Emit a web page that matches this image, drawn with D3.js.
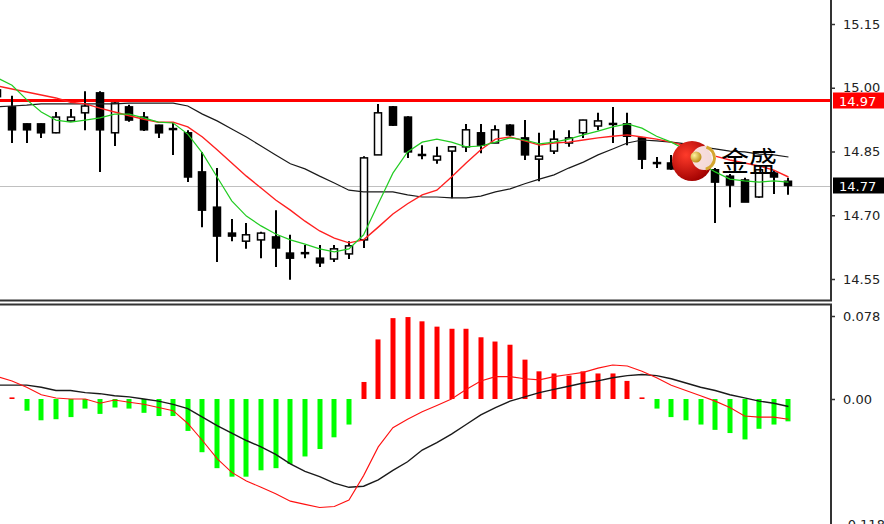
<!DOCTYPE html>
<html><head><meta charset="utf-8">
<script src="https://cdn.jsdelivr.net/npm/d3@7"></script>
<style>html,body{margin:0;padding:0;background:#fff;overflow:hidden}</style>
</head><body><svg id="c" width="884" height="524"></svg>
<script>
// ---- data (bar index -1 .. 53) ----
const barIndex = d3.range(-1, 54);
const open  = [14.995,14.955,14.915,14.915,14.894,14.922,14.941,14.988,14.894,14.955,14.931,14.912,14.904,14.894,14.802,14.719,14.658,14.639,14.642,14.649,14.611,14.612,14.599,14.597,14.609,14.642,14.842,14.955,14.931,14.843,14.830,14.851,14.861,14.894,14.870,14.912,14.882,14.832,14.851,14.870,14.894,14.910,14.916,14.915,14.882,14.824,14.823,14.830,14.849,14.807,14.792,14.783,14.743,14.799,14.780];
const high  = [15.000,14.981,14.916,14.916,14.943,14.950,14.992,14.992,14.966,14.960,14.943,14.913,14.919,14.900,14.849,14.811,14.691,14.682,14.661,14.712,14.654,14.630,14.630,14.630,14.639,14.839,14.962,14.957,14.933,14.865,14.861,14.863,14.915,14.915,14.912,14.914,14.924,14.894,14.900,14.900,14.925,14.941,14.955,14.941,14.884,14.837,14.842,14.854,14.865,14.811,14.797,14.788,14.807,14.806,14.788];
const low   = [14.970,14.870,14.870,14.882,14.893,14.921,14.900,14.802,14.863,14.920,14.898,14.882,14.842,14.778,14.672,14.590,14.639,14.621,14.599,14.578,14.548,14.599,14.578,14.590,14.597,14.623,14.842,14.910,14.835,14.832,14.821,14.740,14.849,14.846,14.870,14.886,14.830,14.780,14.844,14.861,14.882,14.900,14.870,14.865,14.809,14.811,14.807,14.783,14.806,14.682,14.719,14.731,14.741,14.750,14.748];
const close = [14.979,14.901,14.901,14.894,14.931,14.931,14.957,14.901,14.964,14.924,14.901,14.894,14.902,14.790,14.712,14.651,14.651,14.654,14.658,14.623,14.599,14.610,14.588,14.621,14.628,14.835,14.941,14.912,14.849,14.841,14.839,14.861,14.901,14.865,14.901,14.889,14.842,14.839,14.879,14.882,14.924,14.922,14.914,14.886,14.832,14.822,14.809,14.807,14.816,14.778,14.771,14.731,14.807,14.790,14.770];

const maFast = [15.023,15.006,14.972,14.943,14.924,14.919,14.924,14.929,14.938,14.938,14.929,14.919,14.917,14.891,14.846,14.790,14.734,14.698,14.675,14.656,14.642,14.632,14.621,14.614,14.621,14.654,14.727,14.799,14.849,14.872,14.879,14.872,14.861,14.863,14.872,14.882,14.877,14.868,14.872,14.879,14.889,14.898,14.908,14.915,14.905,14.886,14.872,14.854,14.823,14.802,14.785,14.781,14.778,14.781,14.778];
const maMid  = [15.004,14.997,14.990,14.983,14.976,14.966,14.962,14.952,14.943,14.934,14.926,14.919,14.919,14.908,14.884,14.854,14.823,14.792,14.764,14.736,14.712,14.686,14.663,14.646,14.635,14.642,14.672,14.703,14.727,14.748,14.759,14.790,14.823,14.854,14.879,14.884,14.875,14.865,14.870,14.872,14.877,14.882,14.886,14.889,14.884,14.879,14.872,14.863,14.849,14.839,14.830,14.823,14.816,14.806,14.790];
const maSlow = [14.955,14.957,14.959,14.962,14.962,14.962,14.962,14.962,14.962,14.964,14.964,14.964,14.964,14.957,14.938,14.922,14.903,14.884,14.863,14.842,14.821,14.809,14.792,14.776,14.759,14.755,14.755,14.755,14.748,14.743,14.743,14.741,14.741,14.745,14.755,14.762,14.774,14.785,14.795,14.811,14.825,14.842,14.856,14.870,14.877,14.875,14.872,14.868,14.861,14.856,14.851,14.849,14.844,14.842,14.837];

const macdHist   = [0.020,0.0015,-0.011,-0.020,-0.019,-0.017,-0.009,-0.014,-0.008,-0.009,-0.013,-0.016,-0.016,-0.030,-0.050,-0.065,-0.073,-0.073,-0.067,-0.065,-0.061,-0.054,-0.047,-0.036,-0.024,0.016,0.056,0.076,0.077,0.073,0.068,0.066,0.066,0.058,0.054,0.051,0.037,0.026,0.024,0.022,0.026,0.024,0.024,0.017,0.0015,-0.009,-0.017,-0.020,-0.024,-0.029,-0.032,-0.038,-0.028,-0.024,-0.021];
const macdLine   = [0.021,0.017,0.011,0.004,0.001,0.000,0.000,-0.004,-0.001,-0.003,-0.005,-0.008,-0.011,-0.023,-0.039,-0.056,-0.069,-0.077,-0.083,-0.089,-0.096,-0.099,-0.102,-0.101,-0.095,-0.072,-0.045,-0.027,-0.019,-0.012,-0.006,0.000,0.009,0.017,0.021,0.021,0.019,0.018,0.021,0.023,0.025,0.029,0.032,0.031,0.026,0.020,0.013,0.008,0.003,-0.002,-0.008,-0.016,-0.017,-0.017,-0.019];
const macdSignal = [0.013,0.013,0.013,0.011,0.008,0.008,0.006,0.005,0.003,0.002,0.000,-0.002,-0.005,-0.009,-0.017,-0.025,-0.032,-0.039,-0.045,-0.052,-0.061,-0.068,-0.073,-0.079,-0.083,-0.082,-0.076,-0.067,-0.059,-0.048,-0.041,-0.033,-0.024,-0.015,-0.008,-0.002,0.002,0.006,0.009,0.012,0.015,0.017,0.020,0.022,0.023,0.022,0.019,0.015,0.011,0.008,0.004,0.001,-0.002,-0.004,-0.007];

const priceTicks = [15.15, 15.00, 14.85, 14.70, 14.55];
const macdTicks  = [0.078, 0.00, -0.118];
const macdTickLabels = ["0.078", "0.00", "-0.118"];
const levelLine = 14.97;
const lastPrice = 14.77;
const brandText = "金盛";

// ---- layout ----
const svg = d3.select("#c");
const axisX = 831;
const x = d3.scaleLinear().domain([0, 53]).range([12, 788.45]);
const y = d3.scaleLinear().domain([14.55, 15.15]).range([279, 24]);
const ym = d3.scaleLinear().domain([0, 0.078]).range([399, 316]);

const defs = svg.append("defs");
defs.append("clipPath").attr("id","cpMain").append("rect").attr("x",0).attr("y",0).attr("width",axisX).attr("height",300);
defs.append("clipPath").attr("id","cpMacd").append("rect").attr("x",0).attr("y",305).attr("width",axisX).attr("height",219);
const rg = defs.append("radialGradient").attr("id","logoG").attr("cx","35%").attr("cy","35%").attr("r","70%");
rg.append("stop").attr("offset","0%").attr("stop-color","#ff3b2a");
rg.append("stop").attr("offset","100%").attr("stop-color","#a00000");
const gg = defs.append("radialGradient").attr("id","ballG").attr("cx","35%").attr("cy","35%").attr("r","70%");
gg.append("stop").attr("offset","0%").attr("stop-color","#fff2a0");
gg.append("stop").attr("offset","100%").attr("stop-color","#b88a10");

const main = svg.append("g").attr("clip-path","url(#cpMain)");
main.append("line").attr("x1",0).attr("x2",axisX).attr("y1",Math.round(y(lastPrice))+0.5).attr("y2",Math.round(y(lastPrice))+0.5)
  .attr("stroke","#c0c0c0").attr("stroke-width",1);
main.append("line").attr("x1",0).attr("x2",axisX).attr("y1",y(levelLine)).attr("y2",y(levelLine))
  .attr("stroke","#ff0000").attr("stroke-width",3);

const bars = barIndex.map((b,k)=>({b, o:open[k], h:high[k], l:low[k], c:close[k]}));
const cg = main.append("g");
cg.selectAll("line.wick").data(bars).join("line").attr("class","wick")
  .attr("x1",d=>Math.round(x(d.b))).attr("x2",d=>Math.round(x(d.b)))
  .attr("y1",d=>y(d.h)).attr("y2",d=>y(d.l)).attr("stroke","#000").attr("stroke-width",2);
cg.selectAll("rect.body").data(bars).join("rect").attr("class","body")
  .attr("x",d=>Math.round(x(d.b))-3.5).attr("width",7)
  .attr("y",d=>Math.min(y(d.o),y(d.c)))
  .attr("height",d=>Math.max(1,Math.abs(y(d.o)-y(d.c))))
  .attr("fill",d=>d.c>d.o?"#fff":"#000").attr("stroke","#000").attr("stroke-width",1.5);

const lineP = arr => d3.line().x((d,k)=>x(barIndex[k])).y(d=>y(d))(arr);
main.append("path").attr("d",lineP(maSlow)).attr("fill","none").attr("stroke","#1a1a1a").attr("stroke-width",1.2);
main.append("path").attr("d",lineP(maMid)).attr("fill","none").attr("stroke","#ff2020").attr("stroke-width",1.4);
main.append("path").attr("d",lineP(maFast)).attr("fill","none").attr("stroke","#22cc22").attr("stroke-width",1.2);

// logo
const lg = svg.append("g");
lg.append("circle").attr("cx",692).attr("cy",161).attr("r",20).attr("fill","url(#logoG)");
lg.append("circle").attr("cx",704).attr("cy",158).attr("r",12).attr("fill","#fff").attr("fill-opacity",0.85);
lg.append("path").attr("d",d3.arc()({innerRadius:10,outerRadius:13,startAngle:0.3,endAngle:2.9})).attr("transform","translate(703,158)").attr("fill","#d4a630");
lg.append("circle").attr("cx",696).attr("cy",157).attr("r",5.5).attr("fill","url(#ballG)");
lg.append("text").attr("x",721).attr("y",172).text(brandText)
  .attr("font-family","'Noto Sans CJK SC','Noto Sans CJK JP',sans-serif").attr("font-size",28).attr("fill","#000");

// MACD panel
const mg = svg.append("g").attr("clip-path","url(#cpMacd)");
mg.selectAll("rect.h").data(barIndex.map((b,k)=>({b,v:macdHist[k]}))).join("rect").attr("class","h")
  .attr("x",d=>Math.round(x(d.b))-2.5).attr("width",5)
  .attr("y",d=>Math.min(ym(d.v),ym(0)))
  .attr("height",d=>Math.max(1.5,Math.abs(ym(d.v)-ym(0))))
  .attr("fill",d=>d.v>=0?"#ff0000":"#00ff00");
const lineM = arr => d3.line().x((d,k)=>x(barIndex[k])).y(d=>ym(d))(arr);
mg.append("path").attr("d",lineM(macdSignal)).attr("fill","none").attr("stroke","#1a1a1a").attr("stroke-width",1.4);
mg.append("path").attr("d",lineM(macdLine)).attr("fill","none").attr("stroke","#ff1010").attr("stroke-width",1.1);

// frames
svg.append("path").attr("d",`M0,300.5H${axisX}V0`).attr("fill","none").attr("stroke","#333").attr("stroke-width",2);
svg.append("path").attr("d",`M0,304.5H${axisX}V524`).attr("fill","none").attr("stroke","#333").attr("stroke-width",2);

// axes
const font = "'DejaVu Sans',Verdana,sans-serif";
const ax = svg.append("g").attr("transform",`translate(${axisX},0)`)
  .call(d3.axisRight(y).tickValues(priceTicks).tickFormat(d3.format(".2f")).tickSize(4).tickPadding(8));
const am = svg.append("g").attr("transform",`translate(${axisX},0)`)
  .call(d3.axisRight(ym).tickValues(macdTicks).tickFormat((d,k)=>macdTickLabels[k]).tickSize(4).tickPadding(8));
[ax,am].forEach(a=>{
  a.select(".domain").remove();
  a.selectAll("line").attr("stroke","#333").attr("stroke-width",1.5);
  a.selectAll("text").attr("font-family",font).attr("font-size",13).attr("fill","#222");
});
function priceBox(v, col){
  const g = svg.append("g");
  const yy = y(v);
  g.append("rect").attr("x",833).attr("y",yy-8).attr("width",51).attr("height",16).attr("fill",col);
  g.append("text").attr("x",839).attr("y",yy+5).text(d3.format(".2f")(v))
    .attr("font-family",font).attr("font-size",13).attr("fill","#fff");
}
priceBox(levelLine,"#ff0000");
priceBox(lastPrice,"#000");
</script></body></html>
